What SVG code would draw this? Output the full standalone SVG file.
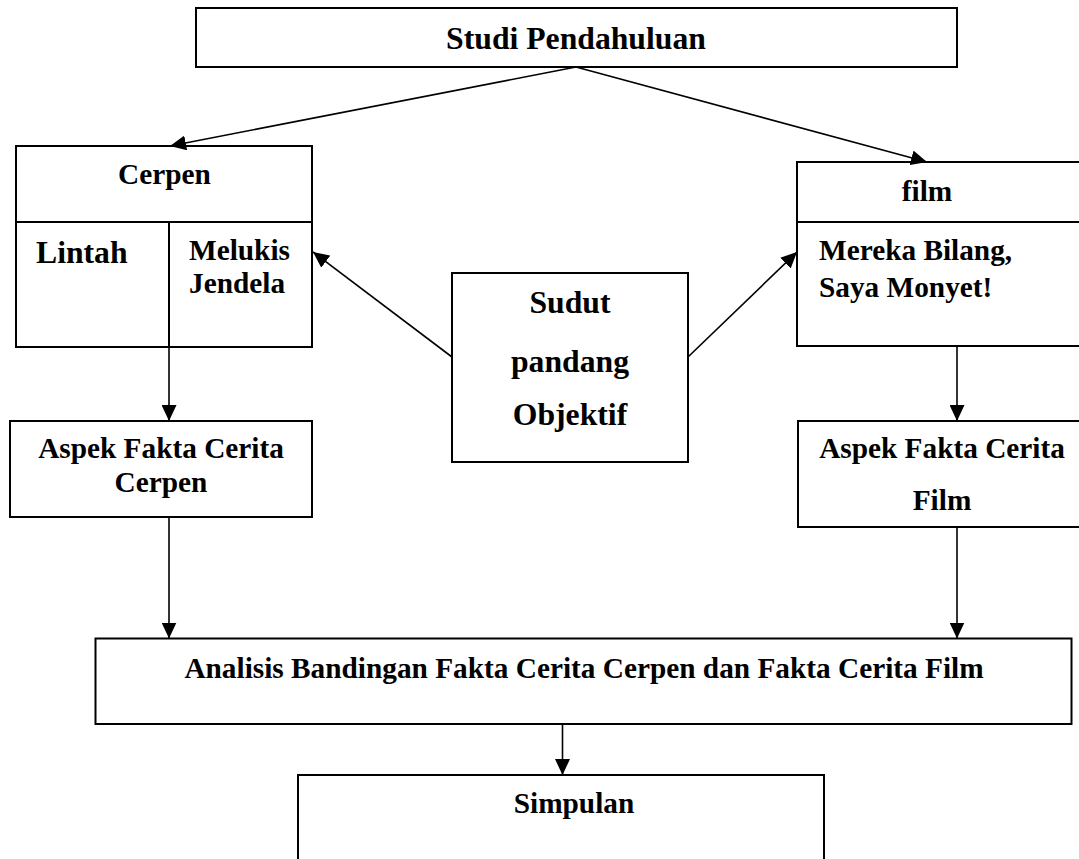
<svg xmlns="http://www.w3.org/2000/svg" width="1079" height="859" viewBox="0 0 1079 859">
<defs>
<marker id="ah" viewBox="0 0 16 15" refX="16" refY="7.5" markerWidth="16" markerHeight="15" orient="auto" markerUnits="userSpaceOnUse">
<path d="M0,0 L16,7.5 L0,15 Z" fill="#000"/>
</marker>
</defs>
<style>
.box{fill:#fff;stroke:#000;stroke-width:2}
.ln{fill:none;stroke:#000;stroke-width:2}
.c{fill:none;stroke:#000;stroke-width:1.6;marker-end:url(#ah)}
text{font-family:"Liberation Serif","Times New Roman",serif;font-weight:bold;fill:#000}
.s{font-size:29.3px}
.l{font-size:31.7px}
.m{text-anchor:middle}
</style>
<rect width="1079" height="859" fill="#fff"/>
<g id="studi">
<rect class="box" x="196" y="8" width="761" height="59"/>
<text class="l m" x="576" y="49">Studi Pendahuluan</text>
</g>
<g id="cerpen">
<rect class="box" x="16" y="146" width="296" height="201"/>
<line class="ln" x1="16" y1="222" x2="312" y2="222"/>
<line class="ln" x1="169" y1="222" x2="169" y2="347"/>
<text class="s m" x="164.5" y="184">Cerpen</text>
<text class="l" x="36" y="263">Lintah</text>
<text class="s" x="189" y="260">Melukis</text>
<text class="s" x="189" y="293">Jendela</text>
</g>
<g id="film">
<rect class="box" x="797" y="162" width="300" height="184"/>
<line class="ln" x1="797" y1="222" x2="1097" y2="222"/>
<text class="s m" x="927" y="201">film</text>
<text class="s" x="819" y="260">Mereka Bilang,</text>
<text class="s" x="819" y="297">Saya Monyet!</text>
</g>
<g id="sudut">
<rect class="box" x="452" y="273" width="236" height="189"/>
<text class="l m" x="570" y="313">Sudut</text>
<text class="l m" x="570" y="372">pandang</text>
<text class="l m" x="570" y="425">Objektif</text>
</g>
<g id="aspek-cerpen">
<rect class="box" x="10" y="421" width="302" height="96"/>
<text class="s m" x="161" y="458">Aspek Fakta Cerita</text>
<text class="s m" x="161" y="492">Cerpen</text>
</g>
<g id="aspek-film">
<rect class="box" x="798" y="421" width="300" height="106"/>
<text class="s m" x="942" y="458">Aspek Fakta Cerita</text>
<text class="s m" x="942" y="510">Film</text>
</g>
<g id="analisis">
<rect class="box" x="95.5" y="638.5" width="976" height="85.5"/>
<text class="s m" x="584" y="678">Analisis Bandingan Fakta Cerita Cerpen dan Fakta Cerita Film</text>
</g>
<g id="simpulan">
<rect class="box" x="298" y="775" width="526" height="100"/>
<text class="s m" x="574" y="813">Simpulan</text>
</g>
<g id="connectors">
<line class="c" x1="576" y1="67" x2="170" y2="146"/>
<line class="c" x1="576" y1="67" x2="927" y2="162"/>
<line class="c" x1="452" y1="357" x2="313" y2="252"/>
<line class="c" x1="688" y1="357" x2="797" y2="252"/>
<line class="c" x1="169" y1="347" x2="169" y2="421"/>
<line class="c" x1="957" y1="346" x2="957" y2="421"/>
<line class="c" x1="169" y1="517" x2="169" y2="638.5"/>
<line class="c" x1="957" y1="527" x2="957" y2="638.5"/>
<line class="c" x1="562.5" y1="724" x2="562.5" y2="775"/>
</g>
</svg>
